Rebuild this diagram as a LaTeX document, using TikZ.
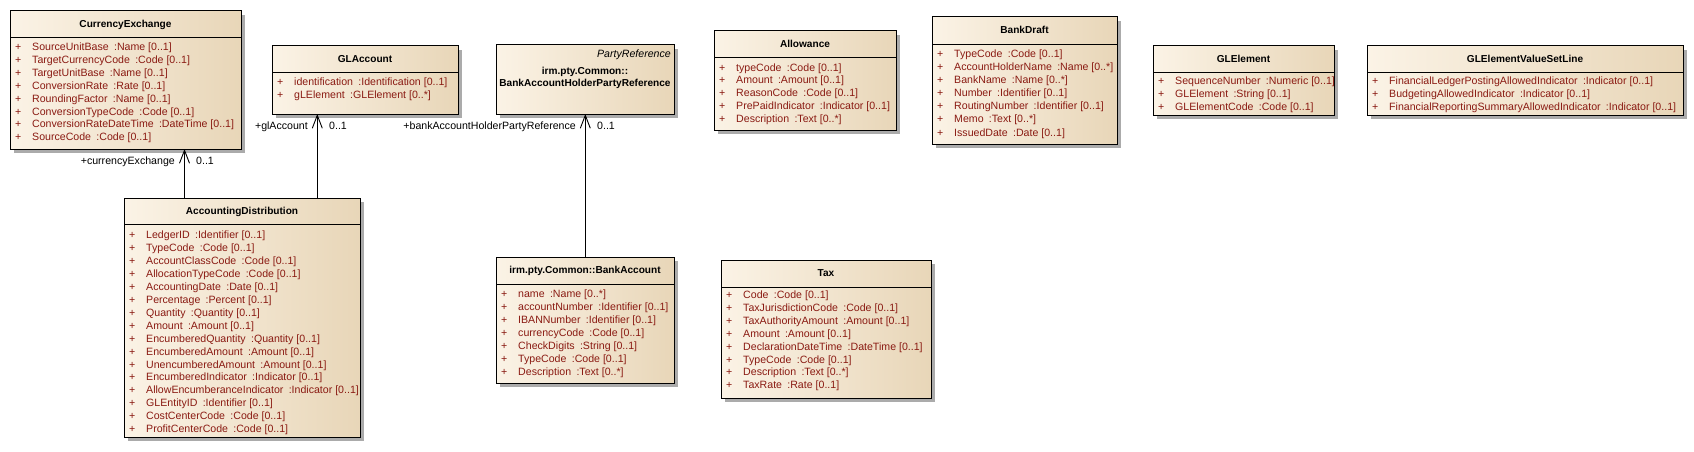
\documentclass[tikz,border=0pt]{standalone}
\usepackage{fontspec}
\setmainfont{Liberation Sans}
\usetikzlibrary{arrows.meta,shadows}
\definecolor{cream}{HTML}{FBF3E6}
\definecolor{tan}{HTML}{E8D6B8}
\definecolor{attrred}{HTML}{8A1A12}
\definecolor{shadowgray}{HTML}{ABABAB}
\newcommand\attrgap{\hspace{0.5em}}
\newcommand\umlfont{\fontsize{10.6}{12}\selectfont}
\newcommand\umltitlefont{\fontsize{10.1}{12}\selectfont\bfseries}
\tikzset{
  cls/.style={draw=black, line width=1pt, left color=cream, right color=tan,
    inner sep=0pt, outer sep=0pt, anchor=north west,
    drop shadow={shadow xshift=4pt, shadow yshift=-4pt, fill=shadowgray, opacity=1}},
  ttl/.style={font=\umltitlefont, inner sep=0pt, text height=7.5pt, text depth=2pt},
  plus/.style={font=\umlfont, text=attrred, inner sep=0pt, anchor=west, text height=7.5pt, text depth=2pt},
  attr/.style={font=\umlfont, text=attrred, inner sep=0pt, anchor=west, text height=7.5pt, text depth=2pt},
  lbl/.style={font=\umlfont, inner sep=0pt, text height=7.5pt, text depth=2pt},
  divline/.style={draw=black, line width=0.8pt},
  assoc/.style={draw=black, line width=0.9pt, -{Straight Barb[length=13pt,width=10pt,line width=0.9pt]}}
}
% #1 name, #2 L, #3 T, #4 W, #5 H, #6 divider y, #7 title
\newcommand\umlclass[7]{%
  \node[cls, minimum width=#4pt, minimum height=#5pt] (#1) at (#2,#3) {};
  \draw[divline] (#1.west |- 0,#6) -- (#1.east |- 0,#6);
  \node[ttl] (#1-title) at (#1.north |- 0,{(#3+#6)/2+0.7}) {#7};
}
% #1 name, #2 L, #3 first row y, #4 step, #5 list
\newcommand\umlattrs[5]{%
  \foreach \t [count=\i from 0] in {#5} {
    \node[plus] (#1-p\i) at ({#2+5},{#3+\i*#4}) {+};
    \node[attr] (#1-a\i) at ({#2+22},{#3+\i*#4}) {\t};
  }
}
\begin{document}
\begin{tikzpicture}[x=1pt,y=-1pt]
\useasboundingbox (0,0) rectangle (1694,452);

% CurrencyExchange
\umlclass{ce}{10}{11}{231}{138}{37}{CurrencyExchange}
\umlattrs{ce}{10}{48}{12.86}{{SourceUnitBase\attrgap:Name [0..1]},
 {TargetCurrencyCode\attrgap:Code [0..1]},
 {TargetUnitBase\attrgap:Name [0..1]},
 {ConversionRate\attrgap:Rate [0..1]},
 {RoundingFactor\attrgap:Name [0..1]},
 {ConversionTypeCode\attrgap:Code [0..1]},
 {ConversionRateDateTime\attrgap:DateTime [0..1]},
 {SourceCode\attrgap:Code [0..1]}}

% GLAccount
\umlclass{gla}{272}{46}{186}{68}{72}{GLAccount}
\umlattrs{gla}{272}{82.7}{13}{{identification\attrgap:Identification [0..1]},
 {gLElement\attrgap:GLElement [0..*]}}

% AccountingDistribution
\umlclass{ad}{124}{198}{236}{239}{224}{AccountingDistribution}
\umlattrs{ad}{124}{236}{12.93}{{LedgerID\attrgap:Identifier [0..1]},
 {TypeCode\attrgap:Code [0..1]},
 {AccountClassCode\attrgap:Code [0..1]},
 {AllocationTypeCode\attrgap:Code [0..1]},
 {AccountingDate\attrgap:Date [0..1]},
 {Percentage\attrgap:Percent [0..1]},
 {Quantity\attrgap:Quantity [0..1]},
 {Amount\attrgap:Amount [0..1]},
 {EncumberedQuantity\attrgap:Quantity [0..1]},
 {EncumberedAmount\attrgap:Amount [0..1]},
 {UnencumberedAmount\attrgap:Amount [0..1]},
 {EncumberedIndicator\attrgap:Indicator [0..1]},
 {AllowEncumberanceIndicator\attrgap:Indicator [0..1]},
 {GLEntityID\attrgap:Identifier [0..1]},
 {CostCenterCode\attrgap:Code [0..1]},
 {ProfitCenterCode\attrgap:Code [0..1]}}

% PartyReference
\node[cls, minimum width=178pt, minimum height=69pt] (pr) at (496,45) {};
\node[lbl, anchor=east, font=\umlfont\itshape] (pr-st) at (671,55) {PartyReference};
\node[ttl] (pr-t1) at (585,71.7) {irm.pty.Common::};
\node[ttl] (pr-t2) at (585,83.5) {BankAccountHolderPartyReference};

% BankAccount
\umlclass{ba}{496}{257}{178}{126}{284}{irm.pty.Common::BankAccount}
\umlattrs{ba}{496}{294.3}{13.07}{{name\attrgap:Name [0..*]},
 {accountNumber\attrgap:Identifier [0..1]},
 {IBANNumber\attrgap:Identifier [0..1]},
 {currencyCode\attrgap:Code [0..1]},
 {CheckDigits\attrgap:String [0..1]},
 {TypeCode\attrgap:Code [0..1]},
 {Description\attrgap:Text [0..*]}}

% Allowance
\umlclass{al}{714}{31}{182}{99}{57}{Allowance}
\umlattrs{al}{714}{68.3}{12.75}{{typeCode\attrgap:Code [0..1]},
 {Amount\attrgap:Amount [0..1]},
 {ReasonCode\attrgap:Code [0..1]},
 {PrePaidIndicator\attrgap:Indicator [0..1]},
 {Description\attrgap:Text [0..*]}}

% BankDraft
\umlclass{bd}{932}{17}{185}{127}{44}{BankDraft}
\umlattrs{bd}{932}{54.3}{13.17}{{TypeCode\attrgap:Code [0..1]},
 {AccountHolderName\attrgap:Name [0..*]},
 {BankName\attrgap:Name [0..*]},
 {Number\attrgap:Identifier [0..1]},
 {RoutingNumber\attrgap:Identifier [0..1]},
 {Memo\attrgap:Text [0..*]},
 {IssuedDate\attrgap:Date [0..1]}}

% Tax
\umlclass{tax}{721}{260}{210}{138}{287}{Tax}
\umlattrs{tax}{721}{296}{12.86}{{Code\attrgap:Code [0..1]},
 {TaxJurisdictionCode\attrgap:Code [0..1]},
 {TaxAuthorityAmount\attrgap:Amount [0..1]},
 {Amount\attrgap:Amount [0..1]},
 {DeclarationDateTime\attrgap:DateTime [0..1]},
 {TypeCode\attrgap:Code [0..1]},
 {Description\attrgap:Text [0..*]},
 {TaxRate\attrgap:Rate [0..1]}}

% GLElement
\umlclass{gle}{1153}{46}{181}{69}{72}{GLElement}
\umlattrs{gle}{1153}{82}{12.9}{{SequenceNumber\attrgap:Numeric [0..1]},
 {GLElement\attrgap:String [0..1]},
 {GLElementCode\attrgap:Code [0..1]}}

% GLElementValueSetLine
\umlclass{glv}{1367}{46}{316}{69}{72}{GLElementValueSetLine}
\umlattrs{glv}{1367}{82}{12.9}{{FinancialLedgerPostingAllowedIndicator\attrgap:Indicator [0..1]},
 {BudgetingAllowedIndicator\attrgap:Indicator [0..1]},
 {FinancialReportingSummaryAllowedIndicator\attrgap:Indicator [0..1]}}

% connectors
\coordinate (ce-end) at (184.5,149);
\coordinate (gla-end) at (317.3,114);
\coordinate (pr-end) at (585.3,114);
\draw[assoc] (ad.north -| ce-end) -- (ce-end);
\draw[assoc] (ad.north -| gla-end) -- (gla-end);
\draw[assoc] (ba.north -| pr-end) -- (pr-end);

\node[lbl, anchor=east] (ce-role) at (175,162) {+currencyExchange};
\node[lbl, anchor=west] (ce-mult) at (196,162) {0..1};
\node[lbl, anchor=east] (gla-role) at (308,127) {+glAccount};
\node[lbl, anchor=west] (gla-mult) at (329,127) {0..1};
\node[lbl, anchor=east] (pr-role) at (576,127) {+bankAccountHolderPartyReference};
\node[lbl, anchor=west] (pr-mult) at (597,127) {0..1};
\end{tikzpicture}
\end{document}
